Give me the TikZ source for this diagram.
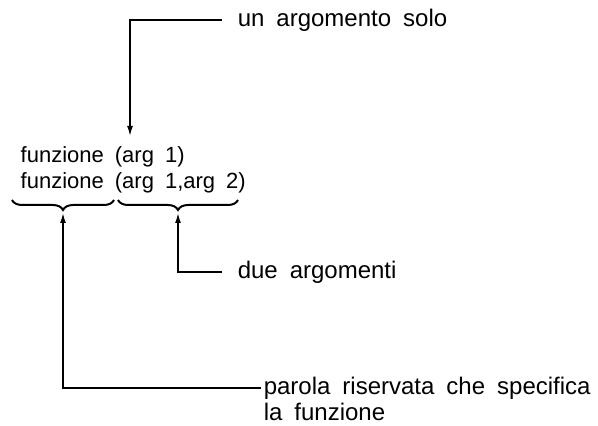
\documentclass[tikz,border=0pt]{standalone}
\usepackage{fontspec}
\setmainfont{Liberation Sans}[WordSpace=1.8]
\usetikzlibrary{arrows.meta,decorations.pathreplacing,positioning}

\begin{document}
\begin{tikzpicture}[x=0.5pt,y=-0.5pt,line width=0.75pt,
    >={Latex[length=5pt,width=3pt]},
    lbl/.style={inner sep=0pt,font=\fontsize{12}{13.5}\selectfont},
    code/.style={inner sep=0pt,font=\fontsize{11}{13}\selectfont},
    brc/.style={decorate,decoration={brace,mirror,amplitude=5pt},line width=1pt}]
  \useasboundingbox (0,0) rectangle (598,426);
  \node[code,anchor=base west] (f1) at (20,163) {funzione (arg 1)};
  \node[code,anchor=base west] (f2) at (20,189) {funzione (arg 1,arg 2)};
  \node[lbl,anchor=west] (solo) at (237,20) {un argomento solo};
  \node[lbl,anchor=west] (due) at (237,272) {due argomenti};
  \node[lbl,anchor=west] (parola) at (263,388) {parola riservata che specifica};
  \node[lbl,below=13pt of parola.base west,anchor=base west] (lafz) {la funzione};
  % braces under the two parts
  \coordinate (b1a) at (12,200); \coordinate (b1b) at (114,200);
  \coordinate (b2a) at (118,200); \coordinate (b2b) at (238,200);
  \draw[brc] (b1a) -- (b1b);
  \draw[brc] (b2a) -- (b2b);
  \coordinate (ta) at (130,136);
  \coordinate (t1) at (63,213); \coordinate (t2) at (178,213);
  \draw[->] ([xshift=-7.5pt]solo.west) -| (ta);
  \draw[->] ([xshift=-7.5pt]due.west) -| (t2);
  \draw[->] ([xshift=-1pt]parola.west) -| (t1);
\end{tikzpicture}
\end{document}
